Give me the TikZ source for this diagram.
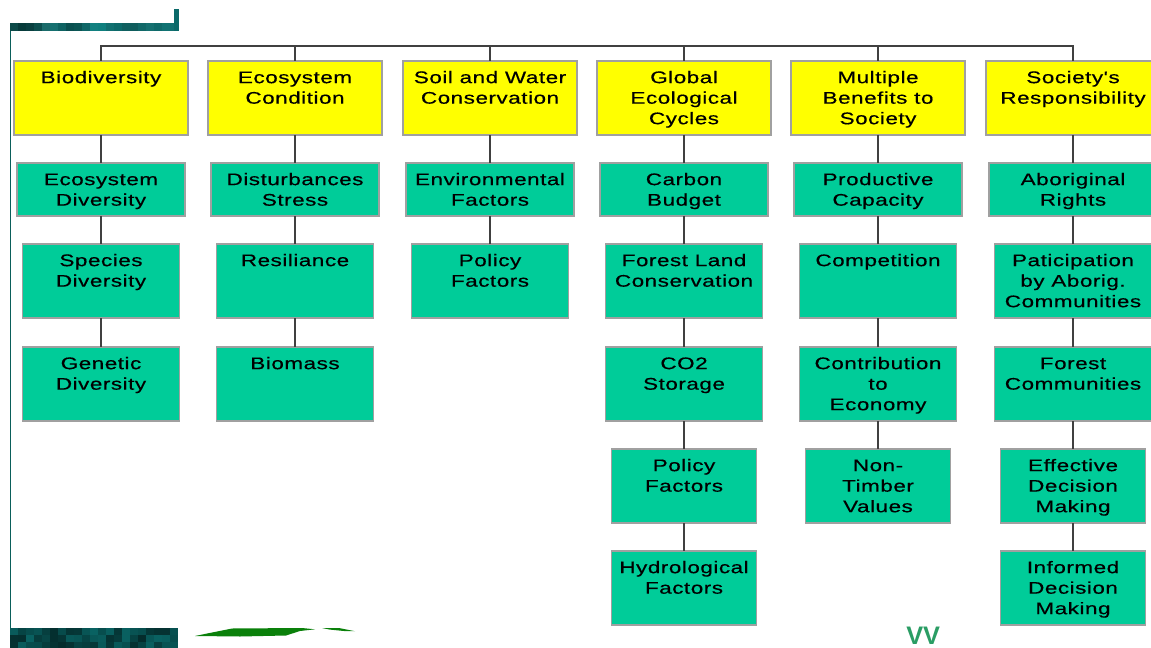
\documentclass[tikz,border=0pt]{standalone}
\usepackage{fontspec}
\newfontfamily\boxfont{Liberation Sans}[FakeStretch=1.34,LetterSpace=3,FakeBold=0.4]
\newfontfamily\vvfont{Liberation Sans}
\newlength\pxu
\setlength\pxu{0.75pt}
\newcommand\boxtext[3]{\parbox[c][#2\pxu][t]{#1\pxu}{\centering\boxfont\fontsize{12.6pt}{15.4pt}\selectfont\rule{0pt}{16.6pt}#3\par}}
\definecolor{yellowc}{HTML}{FFFF00}
\definecolor{greenc}{HTML}{00CC99}
\definecolor{bordergray}{HTML}{A0A0A0}
\definecolor{linec}{HTML}{404040}
\definecolor{tealbase}{HTML}{0B7575}
\definecolor{leftline}{HTML}{0A5E5A}
\definecolor{brush}{HTML}{0A800A}
\definecolor{vvgreen}{HTML}{2A9D64}
\tikzset{
  ybox/.style={draw=bordergray, fill=yellowc, line width=0.9pt, inner sep=0pt, outer sep=0pt, anchor=north},
  gbox/.style={draw=bordergray, fill=greenc, line width=0.9pt, inner sep=0pt, outer sep=0pt, anchor=north},
  conn/.style={draw=linec, line width=0.8pt}
}
\begin{document}
\begin{tikzpicture}[x=0.75pt,y=-0.75pt]
\useasboundingbox (0,0) rectangle (1151,648);
\clip (0,0) rectangle (1151,648);
\fill[white] (0,0) rectangle (1151,648);
% decorations
\foreach \c [count=\i from 0] in {0D4A48,073B3A,0A4040,0D4F4E,1A6B6A,167070,0E6262,0A5050,0B5554,0F6767,128080,0F7F7E,117070,0D6A6A,106060,0F5D5D,116868,157070,0F6A6A,117272,117070}{
  \definecolor{tmpc}{HTML}{\c}
  \fill[tmpc] ({10+8*\i},23) rectangle ({10+8*\i+8.1},31);
}
\fill[tealbase!90!black] (174,9) rectangle (179,31);
\fill[leftline] (10,31) rectangle (11.4,628);
\pgfmathsetseed{7}
\foreach \i in {0,...,20}{
  \foreach \j in {0,1,2}{
    \pgfmathsetmacro\p{int(35+50*rnd)}
    \fill[tealbase!\p!black] ({10+8*\i},{628+7*\j}) rectangle ({10+8*\i+8.1},{628+7*\j+7.1});
  }
}
\fill[brush] (195,636) -- (212,632.5) -- (232,628.5) -- (302,628) -- (315,629.3) -- (300,631) -- (286,635.5) -- (240,636.5) -- cycle;
\fill[brush] (322,628) -- (340,628.2) -- (355,631.2) -- (344,631) -- (330,629.6) -- cycle;
\node[text=vvgreen, font=\vvfont\bfseries\fontsize{19pt}{19pt}\selectfont, anchor=south west, inner sep=0pt] (vv) at (906,645) {VV};
% top level
\node[ybox] (y1) at (101,61) {\boxtext{174}{74}{Biodiversity}};
\node[ybox] (y2) at (295,61) {\boxtext{174}{74}{Ecosystem\\Condition}};
\node[ybox] (y3) at (490,61) {\boxtext{174}{74}{Soil and Water\\Conservation}};
\node[ybox] (y4) at (684,61) {\boxtext{174}{74}{Global\\Ecological\\Cycles}};
\node[ybox] (y5) at (878,61) {\boxtext{174}{74}{Multiple\\Benefits to\\Society}};
\node[ybox] (y6) at (1073,61) {\boxtext{174}{74}{Society's\\Responsibility}};
% column 1
\node[gbox] (a1) at (101,163) {\boxtext{168}{53}{Ecosystem\\Diversity}};
\node[gbox] (a2) at (101,244) {\boxtext{157}{74}{Species\\Diversity}};
\node[gbox] (a3) at (101,347) {\boxtext{157}{74}{Genetic\\Diversity}};
% column 2
\node[gbox] (b1) at (295,163) {\boxtext{168}{53}{Disturbances\\Stress}};
\node[gbox] (b2) at (295,244) {\boxtext{157}{74}{Resiliance}};
\node[gbox] (b3) at (295,347) {\boxtext{157}{74}{Biomass}};
% column 3
\node[gbox] (c1) at (490,163) {\boxtext{168}{53}{Environmental\\Factors}};
\node[gbox] (c2) at (490,244) {\boxtext{157}{74}{Policy\\Factors}};
% column 4
\node[gbox] (d1) at (684,163) {\boxtext{168}{53}{Carbon\\Budget}};
\node[gbox] (d2) at (684,244) {\boxtext{157}{74}{Forest Land\\Conservation}};
\node[gbox] (d3) at (684,347) {\boxtext{157}{74}{CO2\\Storage}};
\node[gbox] (d4) at (684,449) {\boxtext{145}{74}{Policy\\Factors}};
\node[gbox] (d5) at (684,551) {\boxtext{145}{74}{Hydrological\\Factors}};
% column 5
\node[gbox] (e1) at (878,163) {\boxtext{168}{53}{Productive\\Capacity}};
\node[gbox] (e2) at (878,244) {\boxtext{157}{74}{Competition}};
\node[gbox] (e3) at (878,347) {\boxtext{157}{74}{Contribution\\to\\Economy}};
\node[gbox] (e4) at (878,449) {\boxtext{145}{74}{Non-\\Timber\\Values}};
% column 6
\node[gbox] (f1) at (1073,163) {\boxtext{168}{53}{Aboriginal\\Rights}};
\node[gbox] (f2) at (1073,244) {\boxtext{157}{74}{Paticipation\\by Aborig.\\Communities}};
\node[gbox] (f3) at (1073,347) {\boxtext{157}{74}{Forest\\Communities}};
\node[gbox] (f4) at (1073,449) {\boxtext{145}{74}{Effective\\Decision\\Making}};
\node[gbox] (f5) at (1073,551) {\boxtext{145}{74}{Informed\\Decision\\Making}};
% connectors
\draw[conn] (y1.north) -- ++(0,-15) -| (y6.north);
\foreach \k in {2,...,5}{\draw[conn] (y\k.north) -- ++(0,-15);}
\draw[conn] (y1.south) -- (a1.north);
\draw[conn] (a1.south) -- (a2.north);
\draw[conn] (a2.south) -- (a3.north);
\draw[conn] (y2.south) -- (b1.north);
\draw[conn] (b1.south) -- (b2.north);
\draw[conn] (b2.south) -- (b3.north);
\draw[conn] (y3.south) -- (c1.north);
\draw[conn] (c1.south) -- (c2.north);
\draw[conn] (y4.south) -- (d1.north);
\draw[conn] (d1.south) -- (d2.north);
\draw[conn] (d2.south) -- (d3.north);
\draw[conn] (d3.south) -- (d4.north);
\draw[conn] (d4.south) -- (d5.north);
\draw[conn] (y5.south) -- (e1.north);
\draw[conn] (e1.south) -- (e2.north);
\draw[conn] (e2.south) -- (e3.north);
\draw[conn] (e3.south) -- (e4.north);
\draw[conn] (y6.south) -- (f1.north);
\draw[conn] (f1.south) -- (f2.north);
\draw[conn] (f2.south) -- (f3.north);
\draw[conn] (f3.south) -- (f4.north);
\draw[conn] (f4.south) -- (f5.north);
\end{tikzpicture}
\end{document}
